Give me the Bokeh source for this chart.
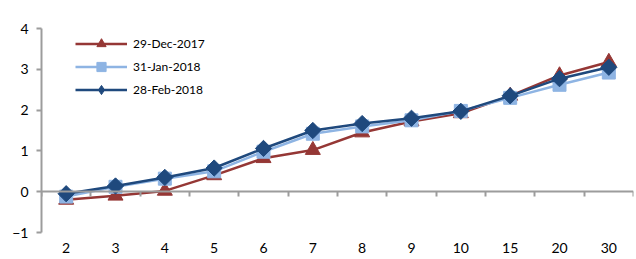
import math
from bokeh.plotting import figure
from bokeh.models import LinearAxis, FixedTicker, Range1d, Legend
from bokeh.embed import file_html
from bokeh.resources import INLINE

categories = ["2", "3", "4", "5", "6", "7", "8", "9", "10", "15", "20", "30"]
dec_2017 = [-0.20, -0.10, 0.02, 0.40, 0.82, 1.02, 1.45, 1.72, 1.92, 2.35, 2.85, 3.18]
jan_2018 = [-0.12, 0.12, 0.32, 0.50, 0.98, 1.42, 1.60, 1.75, 1.98, 2.30, 2.62, 2.92]
feb_2018 = [-0.05, 0.14, 0.35, 0.58, 1.06, 1.50, 1.67, 1.80, 1.97, 2.35, 2.77, 3.05]
y_ticks = [-1, 0, 1, 2, 3, 4]

xs = list(range(len(categories)))
FONT = "Lato"
AXIS_GREY = "#9c9c9c"

p = figure(width=636, height=259, output_backend="svg", toolbar_location=None,
           x_range=Range1d(-0.5, len(categories) - 0.5), y_range=Range1d(-1, 4),
           min_border_left=41, min_border_right=3, min_border_top=28, min_border_bottom=27,
           x_axis_location=None, y_axis_location="left")
p.outline_line_color = None
p.xgrid.visible = False
p.ygrid.visible = False
p.background_fill_color = "white"
p.border_fill_color = "white"

# y axis
ya = p.yaxis[0]
ya.ticker = FixedTicker(ticks=y_ticks)
ya.axis_line_color = AXIS_GREY
ya.axis_line_width = 2
ya.major_tick_line_color = AXIS_GREY
ya.major_tick_line_width = 2
ya.major_tick_in = 0
ya.major_tick_out = 5
ya.minor_tick_line_color = None
ya.major_label_text_font = FONT
ya.major_label_text_font_size = "14px"
ya.major_label_text_color = "black"
ya.major_label_standoff = 8

# x labels at bottom
xa = LinearAxis(ticker=FixedTicker(ticks=xs),
                major_label_overrides={i: c for i, c in enumerate(categories)})
xa.axis_line_color = None
xa.major_tick_line_color = None
xa.minor_tick_line_color = None
xa.major_label_text_font = FONT
xa.major_label_text_font_size = "14px"
xa.major_label_text_color = "black"
xa.major_label_standoff = 4
p.add_layout(xa, "below")

# zero line axis with boundary ticks
za = LinearAxis(ticker=FixedTicker(ticks=[i - 0.5 for i in range(len(categories) + 1)]),
                fixed_location=0)
za.axis_line_color = AXIS_GREY
za.axis_line_width = 2
za.major_tick_line_color = AXIS_GREY
za.major_tick_line_width = 2
za.major_tick_in = 0
za.major_tick_out = 5
za.minor_tick_line_color = None
za.major_label_text_font_size = "0px"
za.major_label_text_alpha = 0
p.add_layout(za, "below")

series = [
    ("29-Dec-2017", dec_2017, "#953735", "triangle", 15, 0, "triangle"),
    ("31-Jan-2018", jan_2018, "#8eb4e3", "square", 13, 0, "square"),
    ("28-Feb-2018", feb_2018, "#1f497d", "square", 11.5, math.pi / 4, "diamond"),
]
items = []
for name, vals, color, marker, size, ang, leg_marker in series:
    r1 = p.line(xs, vals, line_color=color, line_width=2.5)
    r2 = p.scatter(xs, vals, marker=marker, size=size, angle=ang,
                   fill_color=color, line_color=color)
    if leg_marker == marker:
        items.append((name, [r1, r2]))
    else:
        rl = p.scatter([math.nan], [math.nan], marker=leg_marker,
                       fill_color=color, line_color=color)
        items.append((name, [r1, rl]))

legend = Legend(items=items, location=(34, 131))
legend.border_line_color = None
legend.background_fill_alpha = 0
legend.padding = 0
legend.margin = 0
legend.spacing = 0
legend.glyph_width = 52
legend.glyph_height = 23
legend.label_standoff = 6
legend.label_text_font = FONT
legend.label_text_font_size = "12px"
legend.label_text_color = "black"
p.add_layout(legend, "center")

open("out.html", "w").write(file_html(p, INLINE))
